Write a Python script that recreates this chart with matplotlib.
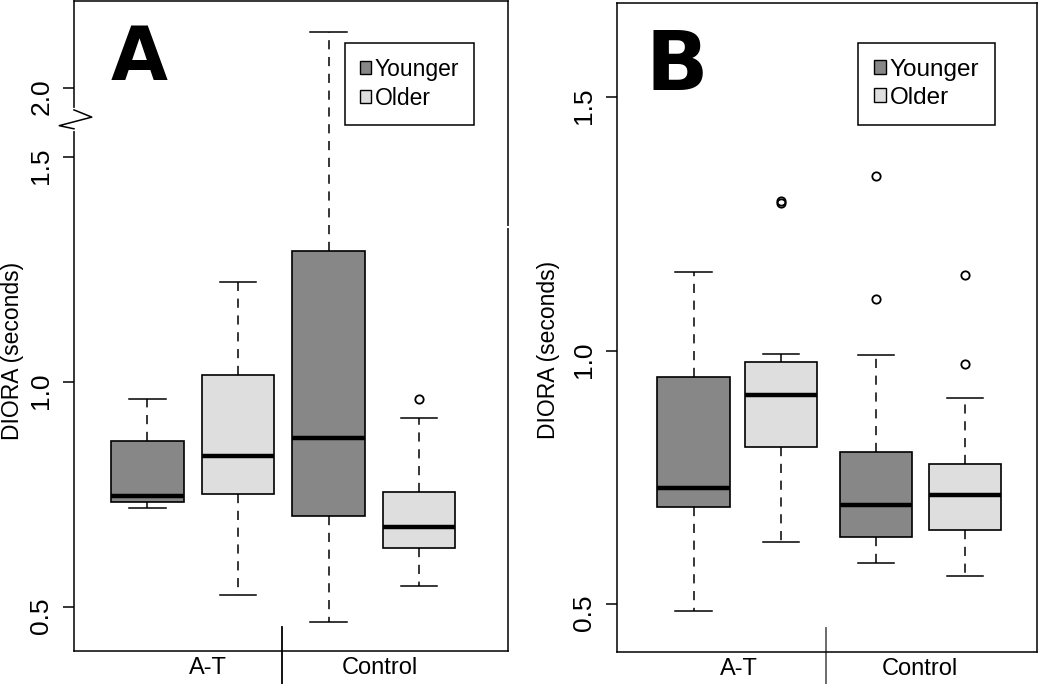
import numpy as np
import matplotlib.pyplot as plt
from matplotlib.patches import Patch

plt.rcParams['font.family'] = ['Liberation Sans', 'DejaVu Sans']

groups = ["A-T", "Control"]
ages = ["Younger", "Older"]
box_colors = ["#878787", "#dedede"]

# order of boxes: A-T younger, A-T older, Control younger, Control older
# panel A
a_whislo = [0.719, 0.527, 0.467, 0.546]
a_q1 = [0.733, 0.750, 0.701, 0.631]
a_med = [0.747, 0.835, 0.876, 0.678]
a_q3 = [0.869, 1.014, 1.290, 0.756]
a_whishi = [0.961, 1.221, 2.124, 0.920]
a_fliers = [[], [], [], [0.961]]
a_pos = [1, 2, 3, 4]

# panel B
b_whislo = [0.486, 0.623, 0.582, 0.555]
b_q1 = [0.691, 0.810, 0.633, 0.647]
b_med = [0.729, 0.912, 0.695, 0.715]
b_q3 = [0.948, 0.978, 0.799, 0.777]
b_whishi = [1.155, 0.993, 0.992, 0.906]
b_fliers = [[], [1.291, 1.295], [1.345, 1.102], [1.150, 0.973]]
b_pos = [1, 1.97, 3.02, 4.0]

yticks = [0.5, 1.0, 1.5, 2.0]

# axis break in panel A: values above gap_lo are pulled down by gap_shift
gap_lo = 1.59
gap_shift = 0.347


def squeeze(v):
    return v - gap_shift if v > gap_lo else v


def make_stats(whislo, q1, med, q3, whishi, fliers, f=lambda v: v):
    stats = []
    for i in range(len(med)):
        stats.append(dict(whislo=f(whislo[i]), q1=f(q1[i]), med=f(med[i]),
                          q3=f(q3[i]), whishi=f(whishi[i]),
                          fliers=[f(v) for v in fliers[i]]))
    return stats


def draw_panel(ax, stats, pos):
    bp = ax.bxp(stats, positions=pos, widths=0.8, capwidths=0.4,
                patch_artist=True, showfliers=True,
                boxprops=dict(edgecolor='black', linewidth=1.2),
                medianprops=dict(color='black', linewidth=3.2, solid_capstyle='butt'),
                whiskerprops=dict(color='black', linewidth=1.1, linestyle=(0, (6, 5))),
                capprops=dict(color='black', linewidth=1.1),
                flierprops=dict(marker='o', markerfacecolor='none', markeredgecolor='black',
                                markersize=6, markeredgewidth=1.3))
    for i, patch in enumerate(bp['boxes']):
        patch.set_facecolor(box_colors[i % 2])
    ax.set_xticks([])
    for s in ax.spines.values():
        s.set_linewidth(1.1)
    ax.tick_params(axis='y', labelrotation=90, length=8, width=1.1, pad=7, labelsize=19)


fig = plt.figure(figsize=(10.5, 6.84), dpi=100)
axA = fig.add_axes([74 / 1050, 1 - 651 / 684, 434 / 1050, 650 / 684])
axB = fig.add_axes([616.7 / 1050, 1 - 652 / 684, 420.3 / 1050, 649 / 684])

# ---- panel A
draw_panel(axA, make_stats(a_whislo, a_q1, a_med, a_q3, a_whishi, a_fliers, squeeze), a_pos)
axA.set_xlim(0.188, 4.983)
axA.set_ylim(0.4016, 1.846)
axA.set_yticks([squeeze(t) for t in yticks])
axA.set_yticklabels([f"{t:.1f}" for t in yticks])

# zigzag on the left spine
b = 1.583
tr = axA.get_yaxis_transform()
axA.plot([0, 0], [b - 0.021, b + 0.021], color='white', lw=3, transform=tr, clip_on=False, zorder=5)
axA.plot([0, 0.041, -0.034, 0], [b + 0.021, b + 0.005, b - 0.014, b - 0.021],
         color='black', lw=1.1, transform=tr, clip_on=False, zorder=6)
axA.plot([0.985, 1.003], [1.344, 1.344], color='white', lw=1.5, transform=tr, clip_on=False, zorder=6)

# ---- panel B
draw_panel(axB, make_stats(b_whislo, b_q1, b_med, b_q3, b_whishi, b_fliers), b_pos)
axB.set_xlim(0.151, 4.796)
axB.set_ylim(0.4055, 1.6856)
axB.set_yticks(yticks[:3])
axB.set_yticklabels([f"{t:.1f}" for t in yticks[:3]])

# group separators and group labels
for ax, sep, sep_col, lab_x in [(axA, 2.483, 'black', [1.663, 3.569]),
                                 (axB, 2.464, '#606060', [1.503, 3.503])]:
    tx = ax.get_xaxis_transform()
    ax.plot([sep, sep], [0.037, -0.06], color=sep_col, lw=1.3, transform=tx, clip_on=False)
    for x, g in zip(lab_x, groups):
        ax.text(x, -0.009, g, transform=tx, ha='center', va='top', fontsize=17)

# legends
handles = [Patch(facecolor=c, edgecolor='black', linewidth=1.0) for c in box_colors]
for ax, anchor, fs in [(axA, (0.6244, 0.9354), 16.5), (axB, (0.574, 0.9384), 17.5)]:
    leg = ax.legend(handles, ages, loc='upper left', bbox_to_anchor=anchor,
                    borderaxespad=0, fancybox=False, edgecolor='black', framealpha=1,
                    fontsize=fs, handlelength=0.5, handleheight=0.5, handletextpad=0.15,
                    borderpad=0.65, labelspacing=0.25)
    leg.get_frame().set_linewidth(1.1)

# panel letters
axA.text(0.085, 0.8785, "A", transform=axA.transAxes, fontsize=53, fontweight='bold',
         family='DejaVu Sans', ha='left', va='baseline')
axB.text(0.068, 0.866, "B", transform=axB.transAxes, fontsize=59, fontweight='bold',
         family='DejaVu Sans', ha='left', va='baseline')

# y labels
fig.text(12.5 / 1050, 1 - 351 / 684, "DIORA (seconds)", rotation=90, ha='center', va='center', fontsize=16.5)
fig.text(548 / 1050, 1 - 350 / 684, "DIORA (seconds)", rotation=90, ha='center', va='center', fontsize=16.5)

fig.savefig("out.png", dpi=100)
